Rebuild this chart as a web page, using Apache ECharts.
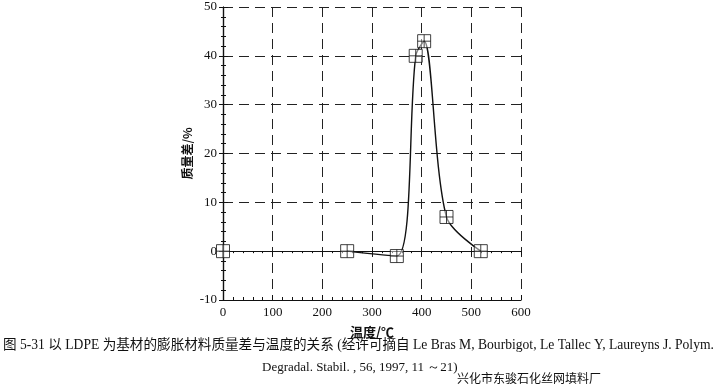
<!DOCTYPE html>
<html><head><meta charset="utf-8">
<script src="https://cdn.jsdelivr.net/npm/echarts@6/dist/echarts.min.js"></script>
<style>html,body{margin:0;padding:0;background:#fff}#c{width:722px;height:387px}</style>
</head><body><div id="c"></div>
<script>
const temps = [0, 250, 350, 388, 405, 450, 519];
const massDiff = [0, 0, -1, 40, 43, 7, 0];
const curveStart = 1;
const xTicks = [0, 100, 200, 300, 400, 500, 600];
const yTicks = [-10, 0, 10, 20, 30, 40, 50];
const xName = '温度/℃';
const yName = '质量差/%';
const caption1 = '图 5-31 以 LDPE 为基材的膨胀材料质量差与温度的关系 (经许可摘自 Le Bras M, Bourbigot, Le Tallec Y, Laureyns J. Polym.';
const caption2 = 'Degradal. Stabil. , 56, 1997, 11 ～21)';
const watermark = '兴化市东骏石化丝网填料厂';

const pts = temps.map((t, i) => [t, massDiff[i]]);
const curve = pts.slice(curveStart);
const serif = '"Liberation Serif", "DejaVu Serif", serif';
const marker = 'path://M0,0H10V10H0Z M5,0V10 M0,5H10';
const dash = {type: [10, 6], color: '#222', width: 1};

const chart = echarts.init(document.getElementById('c'), null, {renderer: 'canvas'});
chart.setOption({
  animation: false,
  backgroundColor: '#fff',
  grid: {left: 223, right: 201, top: 7, bottom: 87, show: false},
  xAxis: [{
    type: 'value', min: 0, max: 600, interval: 100,
    axisLine: {show: true, onZero: false, lineStyle: {color: '#111', width: 1.2}},
    axisTick: {show: true, inside: true, length: 5, lineStyle: {color: '#111'}},
    minorTick: {show: true, splitNumber: 5, length: 3, lineStyle: {color: '#111'}},
    axisLabel: {color: '#111', fontFamily: serif, fontSize: 13, margin: 6},
    splitLine: {show: true, lineStyle: dash},
    name: xName, nameLocation: 'middle', nameGap: 26,
    nameTextStyle: {color: '#111', fontFamily: '"Noto Sans CJK SC", serif', fontSize: 13, fontWeight: 'bold'}
  }, {
    type: 'value', position: 'top', min: 0, max: 600, interval: 100,
    axisLine: {show: true, lineStyle: {color: '#111', width: 1.2}},
    axisTick: {show: true, inside: true, length: 4, lineStyle: {color: '#111'}},
    minorTick: {show: true, splitNumber: 5, length: 2, lineStyle: {color: '#111'}},
    axisLabel: {show: false}, splitLine: {show: false}
  }],
  yAxis: [{
    type: 'value', min: -10, max: 50, interval: 10,
    axisLine: {show: true, onZero: false, lineStyle: {color: '#111', width: 1.2}},
    axisTick: {show: true, inside: true, length: 5, lineStyle: {color: '#111'}},
    minorTick: {show: true, splitNumber: 5, length: 3, lineStyle: {color: '#111'}},
    axisLabel: {color: '#111', fontFamily: serif, fontSize: 13, margin: 6},
    splitLine: {show: true, lineStyle: dash},
    name: yName, nameLocation: 'middle', nameGap: 30, nameRotate: 90,
    nameTextStyle: {color: '#111', fontFamily: '"Noto Sans CJK SC", serif', fontSize: 12, fontWeight: 'bold'}
  }, {
    type: 'value', position: 'right', min: -10, max: 50, interval: 10,
    axisLine: {show: true, lineStyle: {color: '#111', width: 1.2}},
    axisTick: {show: true, inside: true, length: 4, lineStyle: {color: '#111'}},
    minorTick: {show: true, splitNumber: 5, length: 2, lineStyle: {color: '#111'}},
    axisLabel: {show: false}, splitLine: {show: false}
  }],
  series: [{
    type: 'line', data: curve, smooth: 0.3, showSymbol: false,
    lineStyle: {color: '#111', width: 1.4}, z: 3
  }, {
    type: 'scatter', data: pts, symbol: marker, symbolSize: 13,
    itemStyle: {color: 'rgba(255,255,255,0.6)', borderColor: '#111', borderWidth: 1}, z: 4
  }],
  graphic: [
    {type: 'text', left: 3, top: 339, style: {text: caption1, fill: '#111', font: '13.6px "Liberation Serif", "Noto Sans CJK SC", serif'}},
    {type: 'text', left: 262, top: 361, style: {text: caption2, fill: '#111', font: '13px "Liberation Serif", serif'}},
    {type: 'text', left: 457, top: 372, style: {text: watermark, fill: '#111', font: '12px "Noto Sans CJK SC", sans-serif'}}
  ]
});
</script></body></html>
